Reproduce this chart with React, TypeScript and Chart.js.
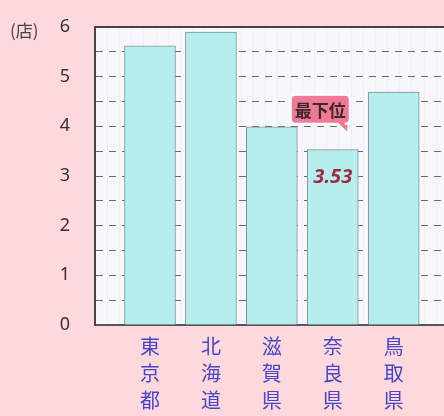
import React, { useEffect, useRef } from "react";
import { Chart, registerables } from "chart.js";

Chart.register(...registerables);

const categories = ["東京都", "北海道", "滋賀県", "奈良県", "鳥取県"];
const values = [5.62, 5.9, 3.99, 3.53, 4.69];
const yTickLabels = ["0", "1", "2", "3", "4", "5", "6"];
const unitLabel = "(店)";
const highlightIndex = 3;
const highlightText = "最下位";
const highlightValue = "3.53";

const decorPlugin = {
  id: "decor",
  beforeDraw(chart: any) {
    const { ctx, chartArea } = chart;
    ctx.save();
    ctx.fillStyle = "#f8f7fb";
    ctx.fillRect(chartArea.left, chartArea.top, chartArea.right - chartArea.left, chartArea.bottom - chartArea.top);
    ctx.restore();
  },
  afterDraw(chart: any) {
    const { ctx, chartArea } = chart;
    ctx.save();
    ctx.fillStyle = "#444";
    ctx.font = "17px 'Noto Sans CJK JP'";
    ctx.textAlign = "left";
    ctx.textBaseline = "middle";
    ctx.fillText(unitLabel, 10, chartArea.top + 4);

    const bar = chart.getDatasetMeta(0).data[highlightIndex];
    if (bar) {
      const bx = bar.x;
      const by = bar.y;
      ctx.fillStyle = "#9e2a40";
      ctx.font = "italic bold 20px 'Noto Sans'";
      ctx.textAlign = "center";
      ctx.fillText(highlightValue, bx, by + 28);

      const left = bx - 42;
      const top = by - 55;
      const w = 59;
      const h = 29;
      const r = 5;
      ctx.beginPath();
      ctx.moveTo(left + r, top);
      ctx.lineTo(left + w - r, top);
      ctx.quadraticCurveTo(left + w, top, left + w, top + r);
      ctx.lineTo(left + w, top + h - r);
      ctx.quadraticCurveTo(left + w, top + h, left + w - r, top + h);
      ctx.lineTo(left + w - 1, top + h);
      ctx.lineTo(left + w - 2, top + h + 10);
      ctx.lineTo(left + w - 12, top + h);
      ctx.lineTo(left + r, top + h);
      ctx.quadraticCurveTo(left, top + h, left, top + h - r);
      ctx.lineTo(left, top + r);
      ctx.quadraticCurveTo(left, top, left + r, top);
      ctx.closePath();
      ctx.fillStyle = "#f07a93";
      ctx.fill();
      ctx.lineWidth = 2;
      ctx.strokeStyle = "#ffffff";
      ctx.stroke();
      ctx.fillStyle = "#3a2a2e";
      ctx.font = "bold 17px 'Noto Sans CJK JP'";
      ctx.textAlign = "center";
      ctx.fillText(highlightText, left + w / 2, top + h / 2 + 1);
    }
    ctx.restore();
  },
};

export default function App() {
  const ref = useRef<HTMLCanvasElement>(null);
  useEffect(() => {
    if (!ref.current) return;
    const xMin = -0.8;
    const xMax = 5.15;
    const chart = new Chart(ref.current, {
      type: "bar",
      data: {
        datasets: [
          {
            data: values.map((v, i) => ({ x: i, y: v })),
            backgroundColor: "#b6eeee",
            borderColor: "#7f9499",
            borderWidth: 1,
            barThickness: 51,
          },
        ],
      },
      options: {
        animation: false,
        responsive: false,
        layout: { padding: { top: 27, right: 10, left: 0, bottom: 0 } },
        plugins: { legend: { display: false }, tooltip: { enabled: false } },
        scales: {
          x: {
            type: "linear",
            min: xMin,
            max: xMax,
            afterBuildTicks(scale: any) {
              const t: any[] = [];
              for (let k = -4; k <= 25; k++) t.push({ value: Math.round(k * 2) / 10 });
              scale.ticks = t;
            },
            afterFit(scale: any) {
              scale.height = 91;
              scale.paddingLeft = 0;
              scale.paddingRight = 0;
            },
            ticks: {
              autoSkip: false,
              maxRotation: 0,
              padding: 8,
              color: "#4646c8",
              font: { size: 20, family: "'Noto Sans CJK JP'", lineHeight: 1.35 },
              callback(value: any) {
                const v = Number(value);
                if (Number.isInteger(v) && v >= 0 && v < categories.length) return categories[v].split("");
                return "";
              },
            },
            grid: { color: "#f0eff5", lineWidth: 1, drawTicks: false },
            border: { display: true, color: "#555", width: 2 },
          },
          y: {
            min: 0,
            max: 6,
            afterBuildTicks(scale: any) {
              const t: any[] = [];
              for (let k = 0; k <= 12; k++) t.push({ value: k / 2 });
              scale.ticks = t;
            },
            afterFit(scale: any) {
              scale.width = 95;
              scale.paddingTop = 0;
              scale.paddingBottom = 0;
            },
            ticks: {
              autoSkip: false,
              padding: 25,
              color: "#333",
              font: { size: 18, family: "'Noto Sans'" },
              callback(value: any) {
                const v = Number(value);
                return Number.isInteger(v) ? yTickLabels[v] : "";
              },
            },
            grid: {
              drawTicks: false,
              color: (ctx: any) => (ctx.tick && ctx.tick.value === 6 ? "#444" : "#6a6a6a"),
              lineWidth: (ctx: any) => (ctx.tick && ctx.tick.value === 6 ? 2 : 1),
            },
            border: {
              display: true,
              color: "#444",
              width: 2,
              dash: (ctx: any) => (ctx.tick && ctx.tick.value === 6 ? [] : [7, 6]),
            },
          },
        },
      },
      plugins: [decorPlugin],
    });
    return () => chart.destroy();
  }, []);
  return (
    <div
      style={{
        position: "fixed",
        left: 0,
        top: 0,
        width: 444,
        height: 416,
        overflow: "hidden",
        background: "#fdd8dd",
      }}
    >
      <canvas ref={ref} width={480} height={416} style={{ width: 480, height: 416, display: "block" }} />
    </div>
  );
}
